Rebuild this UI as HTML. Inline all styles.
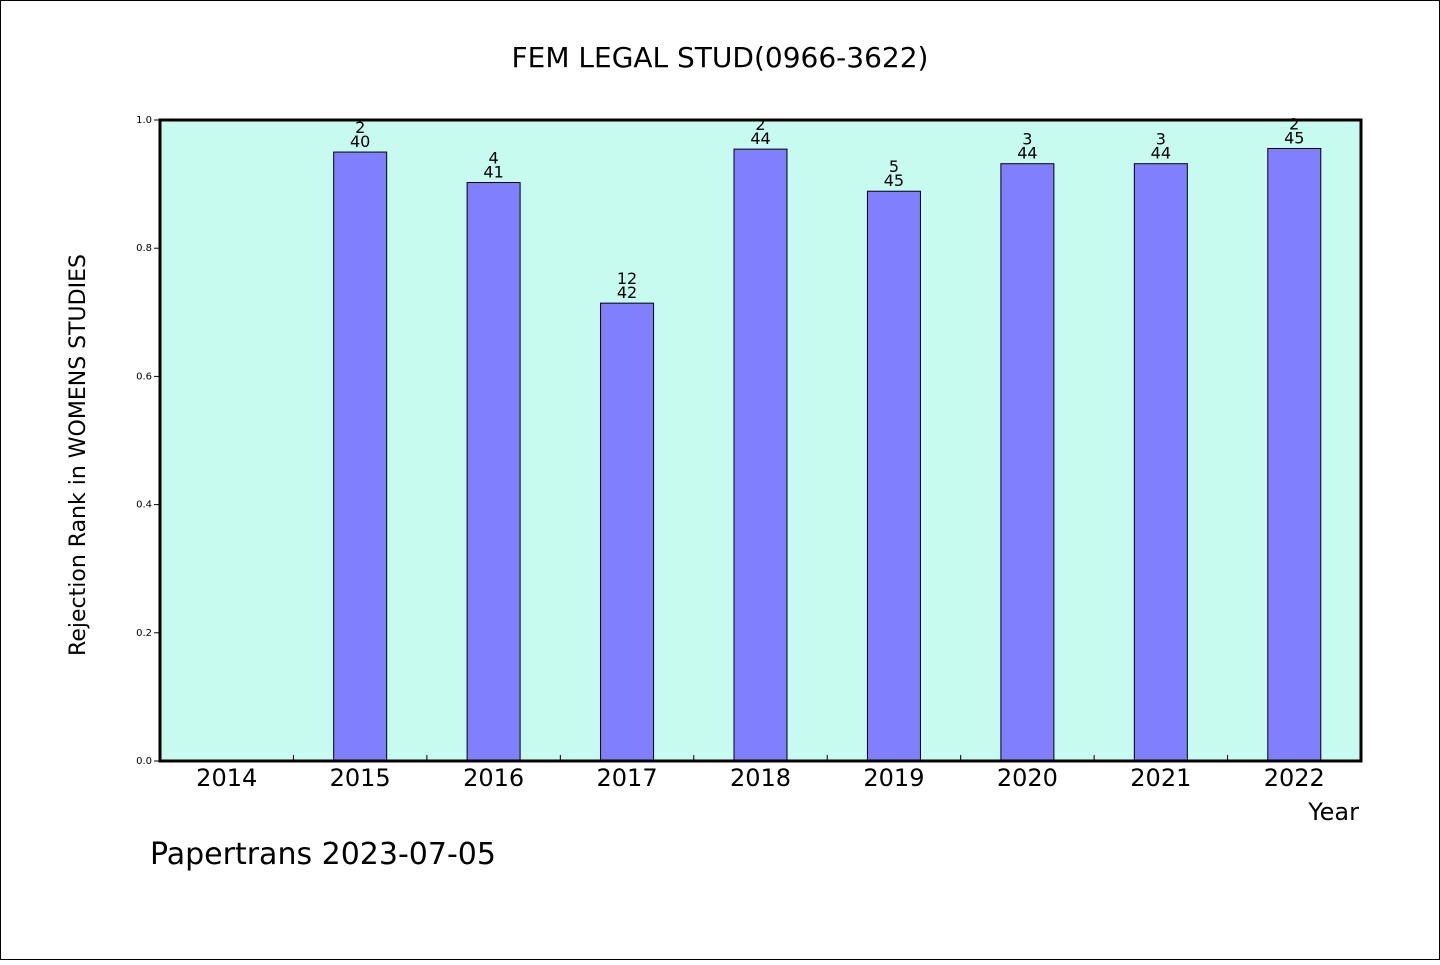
<!DOCTYPE html>
<html><head><meta charset="utf-8"><style>
body{margin:0;background:#fff}
svg text{font-family:"DejaVu Sans","WenQuanYi Zen Hei",sans-serif}
</style></head><body>
<svg width="1440" height="960" xmlns="http://www.w3.org/2000/svg">
<rect x="0.5" y="0.5" width="1439" height="959" fill="#fff" stroke="#000"/>
<text x="720" y="67" font-size="28" text-anchor="middle" font-family="WenQuanYi Zen Hei, sans-serif">FEM LEGAL STUD(0966-3622)</text>
<rect x="160" y="120" width="1201" height="641" fill="#c8fbef"/>
<g id="bars"></g>
<g id="axes"></g>
<rect x="160" y="120" width="1201" height="641" fill="none" stroke="#000" stroke-width="3"/>
<text x="85" y="455" font-size="22" text-anchor="middle" transform="rotate(-90 85 455)" font-family="WenQuanYi Zen Hei, sans-serif">Rejection Rank in WOMENS STUDIES</text>
<text x="1359" y="820" font-size="24" text-anchor="end" font-family="WenQuanYi Zen Hei, sans-serif">Year</text>
<text x="150" y="864" font-size="30" font-family="WenQuanYi Zen Hei, sans-serif">Papertrans 2023-07-05</text>
</svg>
<script>
const categories=["2014","2015","2016","2017","2018","2019","2020","2021","2022"];
const ranks=[null,2,4,12,2,5,3,3,2];
const totals=[null,40,41,42,44,45,44,44,45];
const yTicks=["0.0","0.2","0.4","0.6","0.8","1.0"];
const NS="http://www.w3.org/2000/svg";
const X0=160,W=1201,Y0=761,H=641;
const step=W/categories.length;
const xc=i=>X0+step*(i+0.5);
const y=v=>Y0-v*H;
function mk(t,a,p){const e=document.createElementNS(NS,t);for(const k in a)e.setAttribute(k,a[k]);p.appendChild(e);return e;}
const bars=document.getElementById('bars'),axes=document.getElementById('axes');
categories.forEach((c,i)=>{
  const lab=mk('text',{x:xc(i),y:Y0+25,'font-size':24,'text-anchor':'middle','font-family':'WenQuanYi Zen Hei, sans-serif'},axes);
  lab.textContent=c;
  
  
  if(i>0){const t=mk('line',{x1:X0+step*i,x2:X0+step*i,y1:Y0,y2:Y0-6,stroke:'#000'},axes);
  
  }
  if(ranks[i]==null)return;
  const v=(totals[i]-ranks[i])/totals[i];
  const r=mk('rect',{x:xc(i)-26.5,y:y(v),width:53,height:Y0-y(v),fill:'#8080ff',stroke:'#000','stroke-width':1},bars);
  
  
  const t1=mk('text',{x:xc(i),y:y(v)-19,'font-size':16,'text-anchor':'middle'},bars);
  t1.textContent=ranks[i];
  
  
  const t2=mk('text',{x:xc(i),y:y(v)-5,'font-size':16,'text-anchor':'middle'},bars);
  t2.textContent=totals[i];
  
  
});
yTicks.forEach((t,i)=>{
  const v=parseFloat(t);
  const l=mk('line',{x1:X0-6,x2:X0,y1:y(v),y2:y(v),stroke:'#000'},axes);
  
  
  const tx=mk('text',{x:X0-8,y:y(v)+3,'font-size':10,'text-anchor':'end'},axes);
  tx.textContent=t;
  
  
});
</script>
</body></html>
